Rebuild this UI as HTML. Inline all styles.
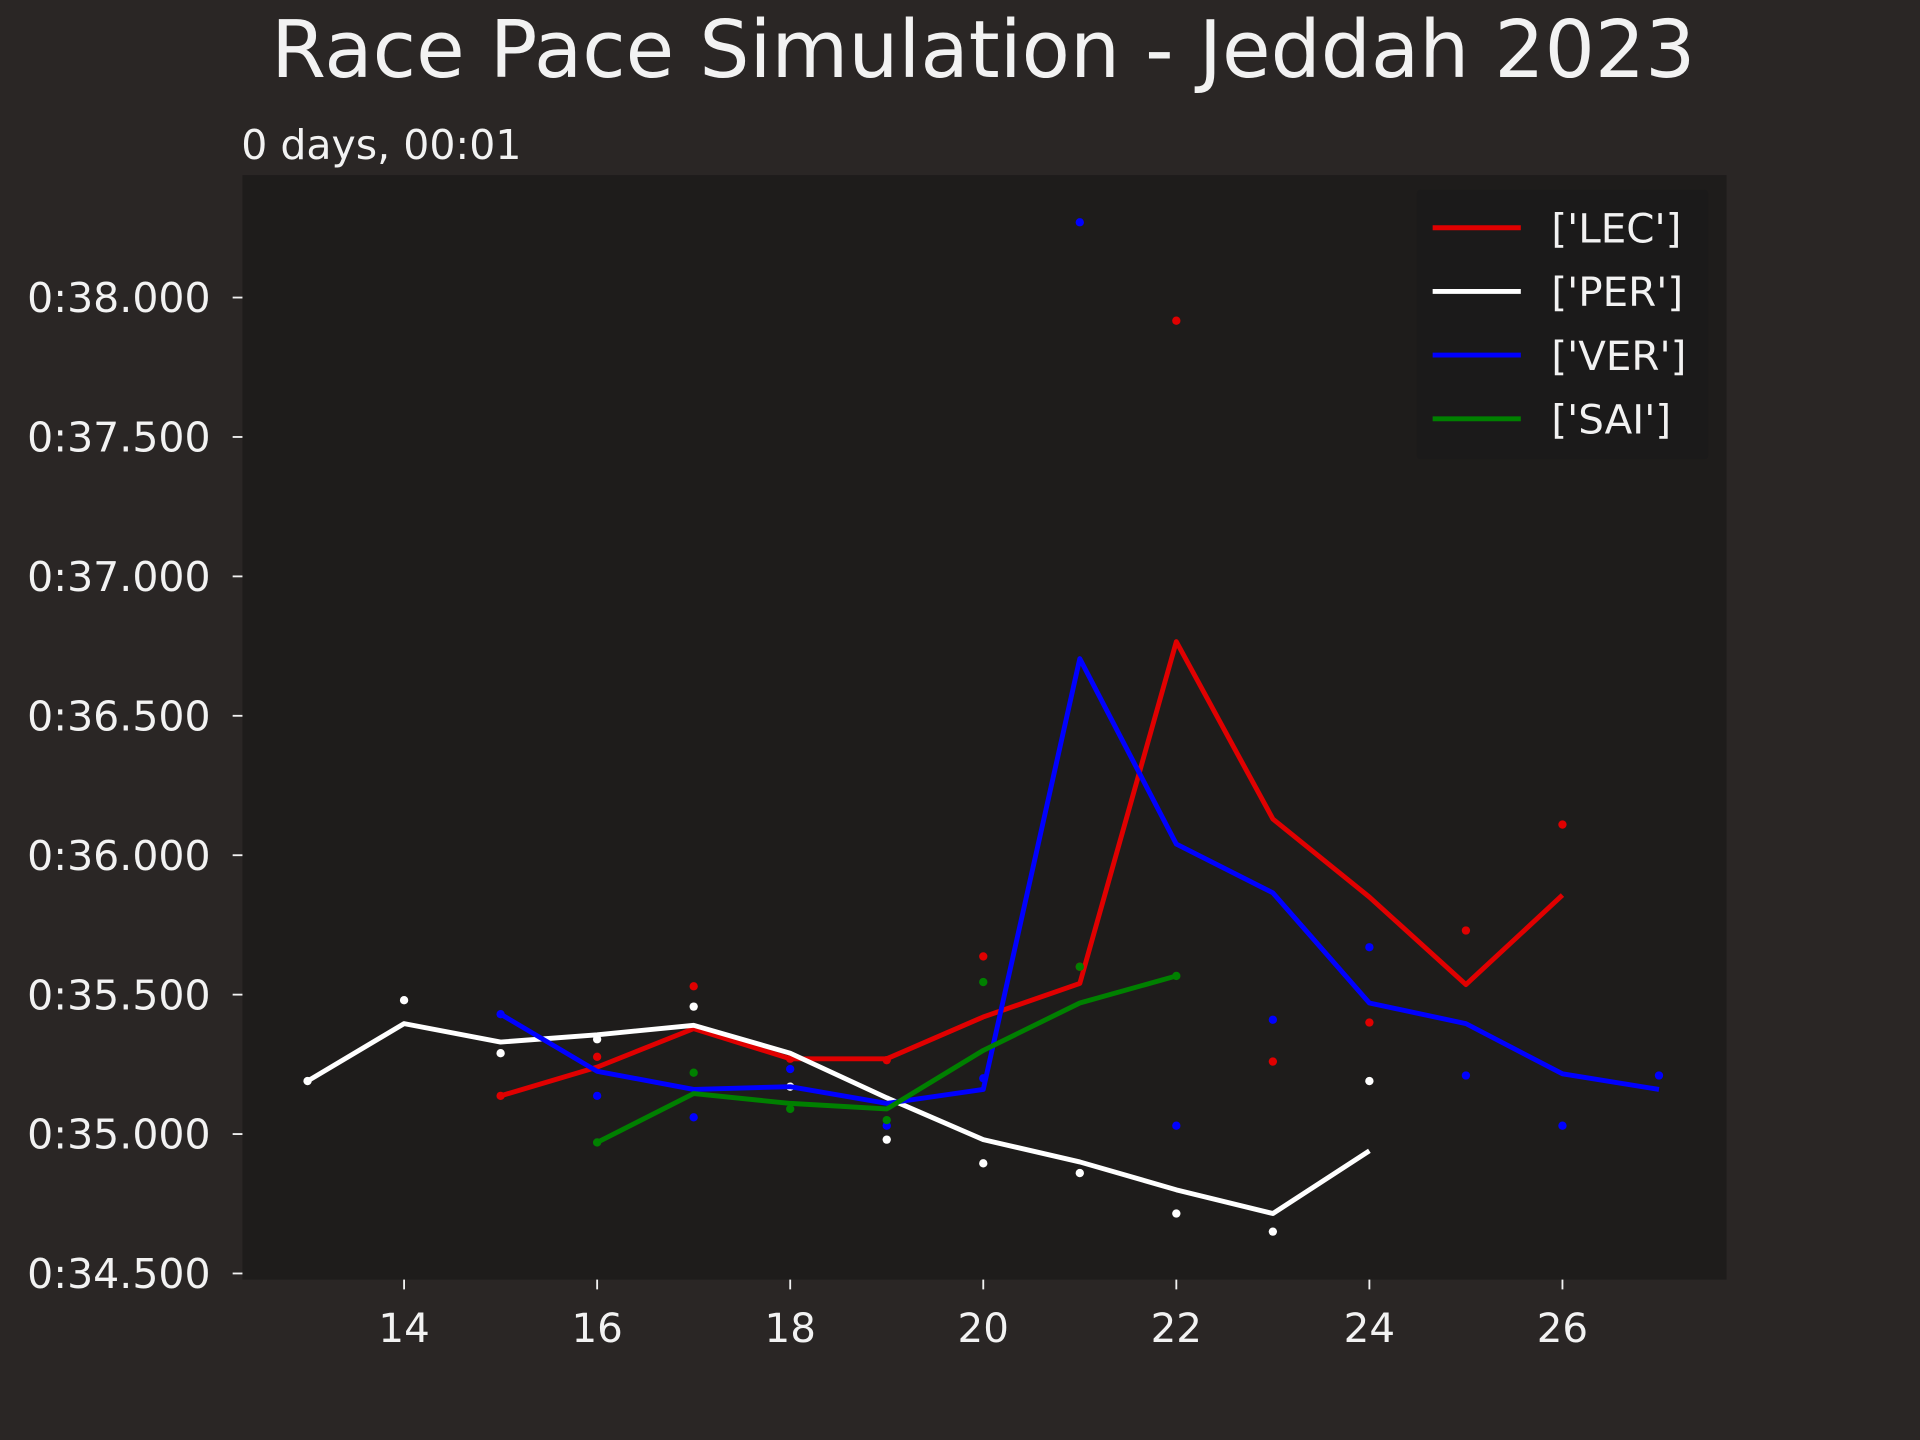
<!DOCTYPE html>
<html><head><meta charset="utf-8"><style>
html,body{margin:0;padding:0;background:#2a2625;}
svg{display:block;font-family:"DejaVu Sans","Liberation Sans",sans-serif;}
</style></head><body>
<svg id="chart" width="1920" height="1440" viewBox="0 0 1568 1176" xmlns="http://www.w3.org/2000/svg">
<rect x="0" y="0" width="1568" height="1176" fill="#2a2625"/>
<text x="803" y="63" font-size="64.5" fill="#f2f2f2" text-anchor="middle">Race Pace Simulation - Jeddah 2023</text>
<text x="197" y="130" font-size="33.5" fill="#f2f2f2">0 days, 00:01</text>
<rect x="198" y="143" width="1212" height="902" fill="#1e1c1b"/>
<g id="axes"></g>
<g id="series"></g>
<g id="legend"></g>
</svg>
<script>
const lecLaps=[15,16,17,18,19,20,21,22,23,24,25,26];
const lecLine=[35.137,35.24,35.378,35.27,35.27,35.42,35.54,36.766,36.13,35.85,35.536,35.857];
const lecDots=[35.137,35.277,35.53,35.27,35.265,35.637,35.60,37.917,35.26,35.40,35.73,36.11];
const perLaps=[13,14,15,16,17,18,19,20,21,22,23,24];
const perLine=[35.19,35.396,35.33,35.356,35.39,35.29,35.13,34.98,34.90,34.80,34.715,34.94];
const perDots=[35.19,35.48,35.29,35.34,35.457,35.17,34.98,34.895,34.86,34.715,34.65,35.19];
const verLaps=[15,16,17,18,19,20,21,22,23,24,25,26,27];
const verLine=[35.43,35.225,35.16,35.17,35.11,35.16,36.705,36.04,35.865,35.47,35.396,35.216,35.16];
const verDots=[35.43,35.137,35.06,35.233,35.03,35.2,38.27,35.03,35.41,35.67,35.21,35.03,35.21];
const saiLaps=[16,17,18,19,20,21,22];
const saiLine=[34.97,35.145,35.11,35.09,35.30,35.47,35.567];
const saiDots=[34.97,35.22,35.09,35.05,35.545,35.60,35.567];
const xTicks=[14,16,18,20,22,24,26];
const yTicks=[34.5,35,35.5,36,36.5,37,37.5,38];
const yTickLabels=['0:34.500','0:35.000','0:35.500','0:36.000','0:36.500','0:37.000','0:37.500','0:38.000'];
const legendLabels=["['LEC']","['PER']","['VER']","['SAI']"];

const NS='http://www.w3.org/2000/svg';
function xs(v){return 330+(v-14)*(1276-330)/12;}
function ys(v){return 243+(38-v)*(1040-243)/3.5;}
function mk(tag,attrs,parent){const e=document.createElementNS(NS,tag);for(const k in attrs)e.setAttribute(k,attrs[k]);parent.appendChild(e);return e;}
const axes=document.getElementById('axes');
xTicks.forEach(t=>{
  const l=mk('line',{x1:xs(t),x2:xs(t),y1:1045,y2:1053,stroke:'#f2f2f2','stroke-width':1.5},axes);
  
  
  const tx=mk('text',{x:xs(t),y:1096,'font-size':33,fill:'#f2f2f2','text-anchor':'middle'},axes);
  tx.textContent=t;
  
  
});
yTicks.forEach((t,i)=>{
  const l=mk('line',{x1:190,x2:198,y1:ys(t),y2:ys(t),stroke:'#f2f2f2','stroke-width':1.5},axes);
  
  
  const tx=mk('text',{x:172,y:ys(t)+12,'font-size':33.5,fill:'#f2f2f2','text-anchor':'end'},axes);
  tx.textContent=yTickLabels[i];
  
  
});
const series=[
 ['lec',lecLaps,lecLine,lecDots,'#e00000'],
 ['per',perLaps,perLine,perDots,'#ffffff'],
 ['ver',verLaps,verLine,verDots,'#0000ff'],
 ['sai',saiLaps,saiLine,saiDots,'#008000']];
const sg=document.getElementById('series');
series.forEach(s=>{
  const pts=s[1].map((x,i)=>xs(x)+','+ys(s[2][i])).join(' ');
  const pl=mk('polyline',{points:pts,fill:'none',stroke:s[4],'stroke-width':4,'stroke-linejoin':'round'},sg);
  
  
  s[1].forEach((x,i)=>{
    const c=mk('circle',{cx:xs(x),cy:ys(s[3][i]),r:3.4,fill:s[4]},sg);
    
    
  });
});
const lg=document.getElementById('legend');
const bx=mk('rect',{x:1157,y:155,width:238,height:220,fill:'#1b1a1a',rx:3},lg);


legendLabels.forEach((lab,i)=>{
  const y=186+i*52;
  const l=mk('line',{x1:1170,x2:1242,y1:y,y2:y,stroke:series[i][4],'stroke-width':4},lg);
  
  
  const t=mk('text',{x:1267,y:y+12,'font-size':33,fill:'#f2f2f2'},lg);
  t.textContent=lab;
  
  
});
</script>
</body></html>
